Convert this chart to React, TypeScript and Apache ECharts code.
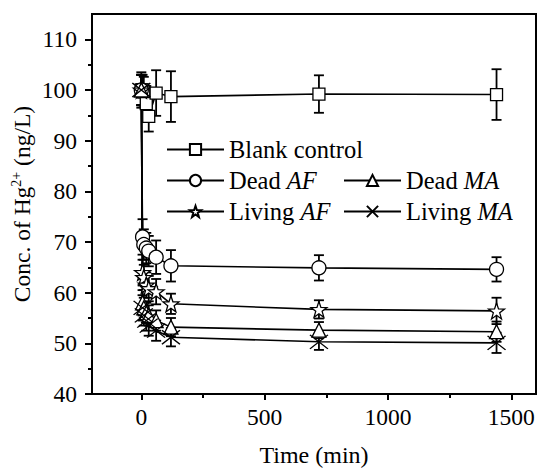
import React, { useEffect, useRef } from "react";
import * as echarts from "echarts";

const times = [0, 5, 10, 20, 30, 60, 120, 720, 1440];
const blankControl = [100, 100, 99.6, 97.3, 94.8, 99.4, 98.7, 99.2, 99.1];
const blankErr = [3.5, 3, 3, 3.5, 3, 4.5, 5, 3.7, 5];
const deadAF = [100, 71, 69.5, 68.8, 68.2, 67, 65.3, 64.9, 64.6];
const deadAFErr = [3, 3.5, 3, 3, 3, 3.3, 3.1, 2.5, 2.4];
const livingAF = [100, 64, 63, 61.5, 60.8, 60.2, 57.8, 56.7, 56.4];
const livingAFErr = [3, 2.5, 2.5, 2.5, 2.5, 2.5, 2, 1.8, 2.6];
const deadMA = [100, 58, 57, 56, 55.5, 54.5, 53.2, 52.6, 52.3];
const deadMAErr = [3, 2.5, 2, 2, 2, 2, 1.8, 1.6, 2];
const livingMA = [100, 57, 55.5, 54.5, 53.5, 52.5, 51.2, 50.3, 50.1];
const livingMAErr = [3, 2.5, 2, 2, 2, 2, 1.8, 1.6, 2];

const xMajor = [0, 500, 1000, 1500];
const xMinor = [250, 750, 1250];
const yMajor = [40, 50, 60, 70, 80, 90, 100, 110];
const yMinor = [45, 55, 65, 75, 85, 95, 105];

const FONT = "Liberation Serif";
const STAR =
  "path://M10 0L12.35 6.76L19.51 6.91L13.8 11.24L15.88 18.09L10 14L4.12 18.09L6.2 11.24L0.49 6.91L7.65 6.76Z";
const CROSS = "path://M0 0L20 16M20 0L0 16";

const seriesDefs = [
  { name: "Blank control", data: blankControl, err: blankErr, symbol: "rect", size: 12 },
  { name: "Dead AF", data: deadAF, err: deadAFErr, symbol: "circle", size: 14 },
  { name: "Living AF", data: livingAF, err: livingAFErr, symbol: STAR, size: 16 },
  { name: "Dead MA", data: deadMA, err: deadMAErr, symbol: "triangle", size: 14 },
  { name: "Living MA", data: livingMA, err: livingMAErr, symbol: CROSS, size: [18, 14] },
];

function errorBarItem(params: any, api: any) {
  const x = api.value(0);
  const lo = api.coord([x, api.value(1)]);
  const hi = api.coord([x, api.value(2)]);
  const cap = 5;
  const style = { stroke: "#000", lineWidth: 1.8 };
  return {
    type: "group",
    children: [
      { type: "line", shape: { x1: lo[0], y1: lo[1], x2: hi[0], y2: hi[1] }, style },
      { type: "line", shape: { x1: lo[0] - cap, y1: lo[1], x2: lo[0] + cap, y2: lo[1] }, style },
      { type: "line", shape: { x1: hi[0] - cap, y1: hi[1], x2: hi[0] + cap, y2: hi[1] }, style },
    ],
  };
}

export default function App() {
  const ref = useRef<HTMLDivElement>(null);
  useEffect(() => {
    if (!ref.current) return;
    const chart = echarts.init(ref.current, undefined, { renderer: "svg" });
    const legendText = {
      fontFamily: FONT,
      fontSize: 24.5,
      lineHeight: 25,
      color: "#000",
      rich: { i: { fontFamily: FONT, fontSize: 24.5, lineHeight: 25, fontStyle: "italic", color: "#000" } },
    };
    const fmt = (name: string) => name.replace(/(AF|MA)$/, "{i|$1}");
    const series: any[] = [];
    seriesDefs.forEach((s) => {
      series.push({
        type: "custom",
        name: s.name + " err",
        renderItem: errorBarItem,
        data: times.map((t, i) => [t, s.data[i] - s.err[i], s.data[i] + s.err[i]]),
        encode: { x: 0, y: [1, 2] },
        z: 1,
        silent: true,
      });
    });
    seriesDefs.forEach((s) => {
      series.push({
        type: "line",
        name: s.name,
        data: times.map((t, i) => [t, s.data[i]]),
        symbol: s.symbol,
        symbolSize: s.size,
        showAllSymbol: true,
        lineStyle: { color: "#000", width: 1.6 },
        itemStyle: { color: "#fff", borderColor: "#000", borderWidth: 1.3 },
        z: 3,
      });
    });
    const numFmt = (v: number) => String(v);
    chart.setOption({
      animation: false,
      backgroundColor: "#fff",
      grid: {
        left: 92,
        right: 3,
        top: 14,
        bottom: 76,
        show: true,
        borderColor: "#000",
        borderWidth: 2,
        containLabel: false,
        outerBoundsMode: "none",
      },
      legend: [
        {
          data: ["Blank control", "Dead AF", "Living AF"],
          orient: "vertical",
          left: 161,
          top: 132,
          itemWidth: 57,
          itemHeight: 14,
          itemGap: 6,
          formatter: fmt,
          textStyle: legendText,
        },
        {
          data: ["Dead MA", "Living MA"],
          orient: "vertical",
          left: 338,
          top: 163,
          itemWidth: 57,
          itemHeight: 14,
          itemGap: 6,
          formatter: fmt,
          textStyle: legendText,
        },
      ],
      xAxis: [
        {
          type: "value",
          min: -200,
          max: 1600,
          name: "Time (min)",
          nameLocation: "middle",
          nameGap: 49,
          nameMoveOverlap: false,
          nameTextStyle: { fontFamily: FONT, fontSize: 24, color: "#000" },
          axisLine: { show: true, onZero: false, lineStyle: { color: "#000", width: 2 } },
          axisTick: { show: true, customValues: xMajor, length: 6, lineStyle: { width: 2, color: "#000" } },
          axisLabel: { customValues: xMajor, formatter: numFmt, fontFamily: FONT, fontSize: 23.5, color: "#000", margin: 11 },
          splitLine: { show: false },
        },
        {
          type: "value",
          min: -200,
          max: 1600,
          position: "bottom",
          axisLine: { show: false, onZero: false },
          axisTick: { show: true, customValues: xMinor, length: 4, lineStyle: { width: 2, color: "#000" } },
          axisLabel: { show: false },
          splitLine: { show: false },
        },
      ],
      yAxis: [
        {
          type: "value",
          min: 40,
          max: 115,
          name: "{a|Conc. of Hg}{s|2+}{a| (ng/L)}",
          nameLocation: "middle",
          nameGap: 57,
          nameMoveOverlap: false,
          nameRotate: 90,
          nameTextStyle: {
            color: "#000",
            rich: {
              a: { fontFamily: FONT, fontSize: 23.5, color: "#000" },
              s: { fontFamily: FONT, fontSize: 14, color: "#000", padding: [0, 0, 12, 0] },
            },
          },
          axisLine: { show: true, onZero: false, lineStyle: { color: "#000", width: 2 } },
          axisTick: { show: true, customValues: yMajor, length: 7, lineStyle: { width: 2, color: "#000" } },
          axisLabel: { customValues: yMajor, formatter: numFmt, fontFamily: FONT, fontSize: 23.5, color: "#000", margin: 15 },
          splitLine: { show: false },
        },
        {
          type: "value",
          min: 40,
          max: 115,
          position: "left",
          axisLine: { show: false, onZero: false },
          axisTick: { show: true, customValues: yMinor, length: 4, lineStyle: { width: 2, color: "#000" } },
          axisLabel: { show: false },
          splitLine: { show: false },
        },
      ],
      series,
    });
    return () => chart.dispose();
  }, []);
  return (
    <div
      ref={ref}
      style={{ width: 539, height: 470, position: "fixed", left: 0, top: 0 }}
    />
  );
}
